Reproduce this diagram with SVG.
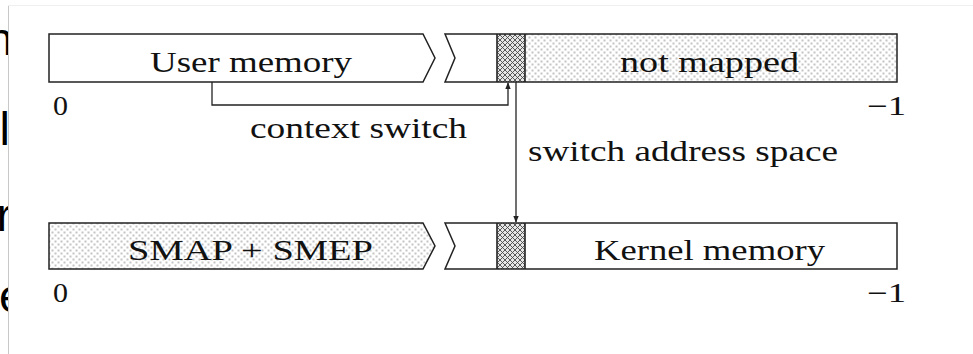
<svg xmlns="http://www.w3.org/2000/svg" width="973" height="354" viewBox="0 0 973 354">
  <style>
    .bar { stroke: #222; stroke-width: 1.5; stroke-linejoin: miter; }
    .div { stroke: #222; stroke-width: 1.6; fill: none; }
    .lbl { font-family: "Liberation Serif", "Times New Roman", serif; font-size: 29px; fill: #111; }
    .num { font-family: "Liberation Serif", "Times New Roman", serif; font-size: 27px; fill: #111; }
    .wire { stroke: #222; stroke-width: 1.3; fill: none; }
    .side { font-family: "Liberation Sans", Arial, sans-serif; font-size: 47px; fill: #000; }
  </style>
  <defs>
    <pattern id="dots" width="6" height="6" patternUnits="userSpaceOnUse">
      <rect width="6" height="6" fill="#fff"/>
      <rect x="0.5" y="0.5" width="2" height="2" fill="#c4c4c4"/>
      <rect x="3.5" y="3.5" width="2" height="2" fill="#c4c4c4"/>
    </pattern>
    <pattern id="hatch" width="5" height="5" patternUnits="userSpaceOnUse">
      <rect width="5" height="5" fill="#e6e6e6"/>
      <path d="M0,0 L5,5 M5,0 L0,5" stroke="#4a4a4a" stroke-width="0.9"/>
    </pattern>
    <marker id="tip" viewBox="0 0 10 10" refX="9" refY="5" markerWidth="7" markerHeight="7" orient="auto-start-reverse" markerUnits="userSpaceOnUse">
      <path d="M0,1 L10,5 L0,9 Z" fill="#222"/>
    </marker>
    <clipPath id="edge">
      <rect x="0" y="0" width="8" height="354"/>
    </clipPath>
  </defs>

  <rect width="973" height="354" fill="#fff"/>

  <!-- neighbouring page text cut off at the left edge -->
  <g id="edge-text" clip-path="url(#edge)">
    <text class="side" x="-13" y="55">n</text>
    <text class="side" x="-0.5" y="145">l</text>
    <text class="side" x="-3.5" y="231">r</text>
    <text class="side" x="-1" y="312">e</text>
  </g>
  <line x1="8.5" y1="5" x2="8.5" y2="354" stroke="#c8c8c8" stroke-width="1"/>
  <line x1="8" y1="5.5" x2="973" y2="5.5" stroke="#efefef" stroke-width="1"/>

  <!-- user-side address space -->
  <g id="user-memory">
    <path class="bar" d="M49,34 H423 L435,58 L423,82 H49 Z" fill="#fff"/>
    <text class="lbl" x="251" y="72" text-anchor="middle" textLength="202" lengthAdjust="spacingAndGlyphs">User memory</text>
  </g>
  <g id="user-upper">
    <rect x="497" y="34" width="28" height="48" fill="url(#hatch)"/>
    <rect x="525" y="34" width="372" height="48" fill="url(#dots)"/>
    <path class="bar" d="M445,34 L455,58 L445,82 H897 V34 Z" fill="none"/>
    <path class="div" d="M497,34 V82 M525,34 V82"/>
    <text class="lbl" x="709.5" y="72" text-anchor="middle" textLength="179" lengthAdjust="spacingAndGlyphs">not mapped</text>
  </g>
  <g id="user-bounds">
    <text class="num" x="53" y="115" textLength="15" lengthAdjust="spacingAndGlyphs">0</text>
    <text class="num" x="906" y="115" text-anchor="end" textLength="39" lengthAdjust="spacingAndGlyphs">−1</text>
  </g>

  <!-- kernel-side address space -->
  <g id="smap-smep">
    <path class="bar" d="M49,223 H423 L435,246 L423,269 H49 Z" fill="url(#dots)"/>
    <text class="lbl" x="250.5" y="260" text-anchor="middle" textLength="245" lengthAdjust="spacingAndGlyphs">SMAP + SMEP</text>
  </g>
  <g id="kernel-memory">
    <rect x="497" y="223" width="28" height="46" fill="url(#hatch)"/>
    <path class="bar" d="M445,223 L455,246 L445,269 H897 V223 Z" fill="none"/>
    <path class="div" d="M497,223 V269 M525,223 V269"/>
    <text class="lbl" x="709.5" y="260" text-anchor="middle" textLength="231" lengthAdjust="spacingAndGlyphs">Kernel memory</text>
  </g>
  <g id="kernel-bounds">
    <text class="num" x="53" y="302" textLength="15" lengthAdjust="spacingAndGlyphs">0</text>
    <text class="num" x="906" y="302" text-anchor="end" textLength="39" lengthAdjust="spacingAndGlyphs">−1</text>
  </g>

  <!-- transitions -->
  <g id="connectors">
    <path class="wire" d="M212,82 V105 H508 V83" marker-end="url(#tip)"/>
    <text class="lbl" x="358.5" y="138" text-anchor="middle" textLength="217" lengthAdjust="spacingAndGlyphs">context switch</text>
    <path class="wire" d="M516,82 V222" marker-end="url(#tip)"/>
    <text class="lbl" x="528" y="161" textLength="310" lengthAdjust="spacingAndGlyphs">switch address space</text>
  </g>
</svg>
